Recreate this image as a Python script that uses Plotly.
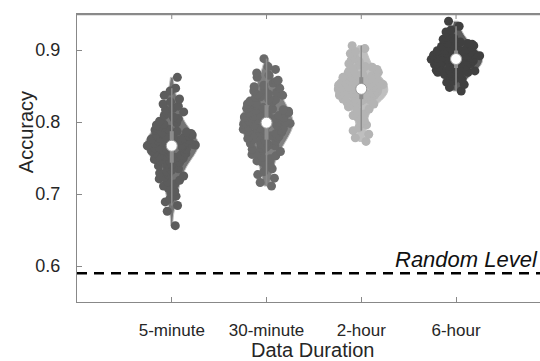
import numpy as np
import plotly.graph_objects as go

categories = ["5-minute", "30-minute", "2-hour", "6-hour"]

acc_5min = [
    0.656,
    0.676,
    0.684, 0.689,
    0.693, 0.697,
    0.701, 0.704, 0.708,
    0.711, 0.714, 0.717, 0.719,
    0.721, 0.723, 0.725, 0.727, 0.729,
    0.731, 0.733, 0.735, 0.736, 0.738, 0.739,
    0.741, 0.742, 0.744, 0.745, 0.746, 0.748, 0.749, 0.749,
    0.750, 0.751, 0.752, 0.753, 0.754, 0.755, 0.756, 0.757, 0.758, 0.759, 0.759,
    0.760, 0.761, 0.762, 0.763, 0.764, 0.765, 0.765, 0.766, 0.767, 0.767, 0.768, 0.768, 0.769, 0.769,
    0.770, 0.771, 0.772, 0.772, 0.773, 0.774, 0.775, 0.775, 0.776, 0.777, 0.778, 0.779, 0.779,
    0.780, 0.781, 0.782, 0.783, 0.784, 0.785, 0.786, 0.787, 0.788, 0.789,
    0.790, 0.791, 0.793, 0.794, 0.796, 0.797, 0.799,
    0.801, 0.803, 0.805, 0.807, 0.809,
    0.812, 0.814, 0.817, 0.819,
    0.822, 0.825, 0.828,
    0.832, 0.837,
    0.843, 0.847,
    0.862,
]

acc_30min = [
    0.711, 0.716,
    0.722, 0.727,
    0.731, 0.735, 0.738,
    0.741, 0.744, 0.746, 0.749,
    0.751, 0.753, 0.755, 0.757, 0.759,
    0.761, 0.762, 0.764, 0.765, 0.767, 0.768, 0.769,
    0.770, 0.771, 0.772, 0.774, 0.775, 0.776, 0.777, 0.778, 0.779,
    0.780, 0.781, 0.782, 0.783, 0.784, 0.785, 0.786, 0.787, 0.788, 0.789, 0.789,
    0.790, 0.791, 0.791, 0.792, 0.793, 0.794, 0.795, 0.795, 0.796, 0.797, 0.798, 0.799, 0.799,
    0.800, 0.801, 0.801, 0.802, 0.803, 0.804, 0.805, 0.805, 0.806, 0.807, 0.808, 0.809, 0.809,
    0.810, 0.811, 0.812, 0.813, 0.814, 0.815, 0.816, 0.817, 0.818, 0.819, 0.819,
    0.820, 0.821, 0.823, 0.824, 0.825, 0.826, 0.828, 0.829, 0.829,
    0.831, 0.832, 0.834, 0.835, 0.837, 0.838, 0.839,
    0.841, 0.843, 0.845, 0.847, 0.849,
    0.851, 0.854, 0.856, 0.858,
    0.862, 0.865, 0.868,
    0.873, 0.877,
    0.888,
]

acc_2hour = [
    0.773, 0.778,
    0.783, 0.788,
    0.792, 0.796, 0.799,
    0.802, 0.806, 0.809,
    0.811, 0.815, 0.818,
    0.821, 0.823, 0.825, 0.826, 0.827, 0.828, 0.829,
    0.830, 0.831, 0.832, 0.832, 0.833, 0.834, 0.835, 0.835, 0.836, 0.837, 0.837, 0.838, 0.839, 0.839,
    0.840, 0.841, 0.841, 0.842, 0.842, 0.843, 0.844, 0.844, 0.845, 0.846, 0.846, 0.847, 0.847, 0.848, 0.849, 0.849,
    0.850, 0.851, 0.851, 0.852, 0.853, 0.854, 0.854, 0.855, 0.856, 0.857, 0.857, 0.858, 0.859, 0.859,
    0.861, 0.862, 0.863, 0.864, 0.865, 0.866, 0.867, 0.868, 0.869,
    0.871, 0.873, 0.874, 0.876, 0.877, 0.879,
    0.881, 0.884, 0.886, 0.889,
    0.892, 0.895, 0.898,
    0.902, 0.906,
]

acc_6hour = [
    0.843, 0.848,
    0.852, 0.855, 0.857, 0.859,
    0.861, 0.863, 0.864, 0.866, 0.867, 0.868, 0.869, 0.869,
    0.870, 0.871, 0.871, 0.872, 0.873, 0.873, 0.874, 0.875, 0.875, 0.876, 0.877, 0.878, 0.878, 0.879,
    0.880, 0.880, 0.881, 0.881, 0.882, 0.882, 0.883, 0.883, 0.884, 0.884, 0.885, 0.885, 0.886, 0.886,
    0.887, 0.887, 0.888, 0.888, 0.889, 0.889,
    0.890, 0.890, 0.891, 0.891, 0.892, 0.892, 0.893, 0.893, 0.894, 0.895, 0.895, 0.896, 0.896, 0.897,
    0.897, 0.898, 0.899, 0.899,
    0.900, 0.901, 0.902, 0.903, 0.904, 0.905, 0.906, 0.907, 0.908, 0.909, 0.909,
    0.911, 0.913, 0.915, 0.916, 0.918, 0.919,
    0.922, 0.925, 0.928,
    0.933, 0.940,
]

random_level = 0.59
y_ticks = [0.6, 0.7, 0.8, 0.9]

series = [acc_5min, acc_30min, acc_2hour, acc_6hour]
dot_colors = [(92, 92, 92), (106, 106, 106), (180, 180, 180), (64, 64, 64)]

FONT = "Liberation Sans, Arial, Helvetica, sans-serif"
TXT = "#262626"
AXC = "#888888"

fig = go.Figure()

for i, (vals, col) in enumerate(zip(series, dot_colors)):
    xpos = i + 1
    r, g, b = col
    fig.add_trace(go.Violin(
        x=[xpos] * len(vals), y=vals,
        width=0.56, scalemode="width", spanmode="hard",
        bandwidth=0.011,
        fillcolor=f"rgba({r},{g},{b},0.85)",
        line=dict(color="#c4c4c4", width=1),
        points="all", jitter=0.95, pointpos=0,
        marker=dict(size=9, color=f"rgb({r},{g},{b})", line=dict(width=0)),
        box=dict(visible=False), meanline=dict(visible=False),
        hoveron="points", showlegend=False,
    ))

# box / whisker / median overlays computed from the data
for i, vals in enumerate(series):
    xpos = i + 1
    a = np.array(vals)
    q1, med, q3 = np.percentile(a, [25, 50, 75])
    iqr = q3 - q1
    lo = a[a >= q1 - 1.5 * iqr].min()
    hi = a[a <= q3 + 1.5 * iqr].max()
    fig.add_trace(go.Scatter(x=[xpos, xpos], y=[lo, hi], mode="lines",
                             line=dict(color="#8c8c8c", width=1.5),
                             showlegend=False, hoverinfo="skip"))
    fig.add_trace(go.Scatter(x=[xpos, xpos], y=[q1, q3], mode="lines",
                             line=dict(color="#8c8c8c", width=4),
                             showlegend=False, hoverinfo="skip"))
    fig.add_trace(go.Scatter(x=[xpos], y=[med], mode="markers",
                             marker=dict(size=11, color="white",
                                         line=dict(color="#9a9a9a", width=1)),
                             showlegend=False, hoverinfo="skip"))

# random-level reference line
fig.add_shape(type="line", xref="paper", yref="y", x0=0, x1=1,
              y0=random_level, y1=random_level,
              line=dict(color="black", width=2.5, dash="10px,7px"))

# top frame line drawn slightly inside the plot area
fig.add_shape(type="line", xref="paper", yref="y", x0=0, x1=1,
              y0=0.9495, y1=0.9495, layer="above",
              line=dict(color="#8a8a8a", width=2))
for k in range(len(categories)):
    fig.add_shape(type="line", xref="x", yref="y", x0=k + 1, x1=k + 1,
                  y0=0.95, y1=0.943, line=dict(color=AXC, width=1))

fig.add_annotation(text="Random Level", xref="x", yref="y",
                   x=3.33, y=random_level, xanchor="left", yanchor="bottom",
                   yshift=-1, showarrow=False,
                   font=dict(family=FONT, size=22, color="#111111", style="italic"))

fig.add_annotation(text="Accuracy", xref="paper", yref="paper",
                   x=-0.110, y=0.59, xanchor="center", yanchor="middle",
                   textangle=-90, showarrow=False,
                   font=dict(family=FONT, size=20, color=TXT))

fig.add_annotation(text="Data Duration", xref="paper", yref="paper",
                   x=0.508, y=-0.167, xanchor="center", yanchor="middle",
                   showarrow=False,
                   font=dict(family=FONT, size=20, color=TXT))

fig.update_layout(
    width=540, height=361,
    margin=dict(l=77, r=0, t=14, b=59, autoexpand=False),
    paper_bgcolor="white", plot_bgcolor="white",
    violinmode="overlay",
    font=dict(family=FONT, size=18, color=TXT),
)

fig.update_xaxes(
    range=[0, 4.886], tickvals=[1, 2, 3, 4], ticktext=categories,
    showline=True, linecolor=AXC, linewidth=1.3, mirror=True,
    ticks="inside", ticklen=5, tickcolor=AXC, tickwidth=1,
    showgrid=False, zeroline=False, ticklabelstandoff=12, automargin=False,
    tickfont=dict(family=FONT, size=17, color=TXT),
)
fig.update_yaxes(
    range=[0.55, 0.95], tickvals=y_ticks, ticktext=[str(v) for v in y_ticks],
    showline=True, linecolor=AXC, linewidth=1.3, mirror=False,
    ticks="inside", ticklen=5, tickcolor=AXC, tickwidth=1,
    showgrid=False, zeroline=False, ticklabelstandoff=12, automargin=False,
    tickfont=dict(family=FONT, size=18, color=TXT),
)

fig.write_html(
    "out.html",
    config={"displayModeBar": False},
    post_script="document.body.style.margin='0';document.body.style.padding='0';",
)
